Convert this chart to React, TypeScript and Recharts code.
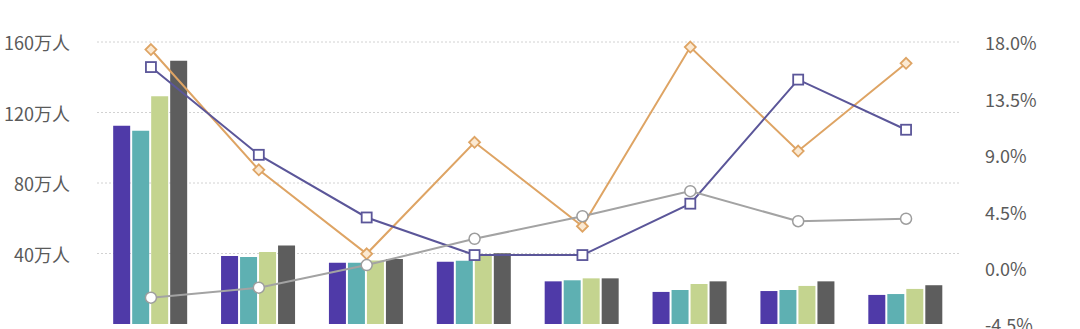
import { Bar, CartesianGrid, ComposedChart, Line, XAxis, YAxis } from "recharts";

const categories = ["类别1", "类别2", "类别3", "类别4", "类别5", "类别6", "类别7", "类别8"];

// bar values, 万人
const seriesA = [112.5, 38.6, 34.8, 35.3, 24.2, 18.2, 18.7, 16.5];
const seriesB = [109.7, 38.0, 34.8, 35.9, 24.8, 19.3, 19.3, 17.0];
const seriesC = [129.2, 40.8, 36.0, 38.8, 25.9, 22.7, 21.6, 19.9];
const seriesD = [149.4, 44.6, 36.9, 40.1, 25.9, 24.2, 24.2, 22.0];

// growth rates, %
const rateOrange = [17.4, 7.8, 1.1, 10.0, 3.3, 17.6, 9.3, 16.3];
const ratePurple = [16.0, 9.0, 4.0, 1.0, 1.0, 5.1, 15.0, 11.0];
const rateGray = [-2.4, -1.6, 0.2, 2.3, 4.1, 6.1, 3.7, 3.9];

const leftTicks = [40, 80, 120, 160];
const rightTicks = [-4.5, 0, 4.5, 9, 13.5, 18];

const data = categories.map((name, i) => ({
  name,
  a: seriesA[i],
  b: seriesB[i],
  c: seriesC[i],
  d: seriesD[i],
  orange: rateOrange[i],
  purple: ratePurple[i],
  gray: rateGray[i],
}));

const FONT = '"Noto Sans CJK SC", "Noto Sans", sans-serif';

interface DotProps {
  cx?: number;
  cy?: number;
  index?: number;
}

function SquareDot({ cx = 0, cy = 0, index }: DotProps) {
  return <rect key={index} x={cx - 5} y={cy - 5} width={10} height={10} fill="#fff" stroke="#5b5699" strokeWidth={1.8} />;
}

function DiamondDot({ cx = 0, cy = 0, index }: DotProps) {
  const r = 5.5;
  return (
    <polygon
      key={index}
      points={`${cx},${cy - r} ${cx + r},${cy} ${cx},${cy + r} ${cx - r},${cy}`}
      fill="#fbe9d2"
      stroke="#dea464"
      strokeWidth={1.8}
    />
  );
}

function CircleDot({ cx = 0, cy = 0, index }: DotProps) {
  return <circle key={index} cx={cx} cy={cy} r={5.5} fill="#fff" stroke="#9d9d9d" strokeWidth={1.5} />;
}

export default function App() {
  return (
    <div style={{ position: "absolute", left: 0, top: 0, width: 1080, height: 360, background: "#fff" }}>
      <ComposedChart
        width={1080}
        height={360}
        data={data}
        margin={{ top: 42, right: 0, left: 0, bottom: 36 }}
        barCategoryGap="15%"
        barGap={2}
      >
        <CartesianGrid yAxisId="left" vertical={false} stroke="#d2d2d2" strokeDasharray="2 2" syncWithTicks />
        <XAxis dataKey="name" tick={false} tickLine={false} height={0} axisLine={{ stroke: "#c4c4c4", strokeDasharray: "0" }} />
        <YAxis
          yAxisId="left"
          domain={[0, 160]}
          ticks={leftTicks}
          width={97}
          axisLine={false}
          tickLine={false}
          tickSize={0}
          tickMargin={27}
          tickFormatter={(v: number) => `${v}万人`}
          tick={{ fontSize: 18, fill: "#5a5a5a", fontFamily: FONT, dy: 2 }}
        />
        <YAxis
          yAxisId="right"
          orientation="right"
          domain={[-4.5, 18]}
          ticks={rightTicks}
          width={120}
          axisLine={false}
          tickLine={false}
          tickSize={0}
          tickMargin={25}
          tickFormatter={(v: number) => `${v.toFixed(1)}%`}
          tick={{ fontSize: 18, fill: "#5a5a5a", fontFamily: FONT, dy: 2 }}
        />
        <Bar yAxisId="left" dataKey="a" fill="#4f3aa8" isAnimationActive={false} />
        <Bar yAxisId="left" dataKey="b" fill="#5eb0b2" isAnimationActive={false} />
        <Bar yAxisId="left" dataKey="c" fill="#c4d48f" isAnimationActive={false} />
        <Bar yAxisId="left" dataKey="d" fill="#5d5d5d" isAnimationActive={false} />
        <Line
          yAxisId="right"
          dataKey="orange"
          stroke="#dea464"
          strokeWidth={2}
          dot={DiamondDot}
          activeDot={false}
          isAnimationActive={false}
        />
        <Line
          yAxisId="right"
          dataKey="purple"
          stroke="#5b5699"
          strokeWidth={2}
          dot={SquareDot}
          activeDot={false}
          isAnimationActive={false}
        />
        <Line
          yAxisId="right"
          dataKey="gray"
          stroke="#a3a3a3"
          strokeWidth={2}
          dot={CircleDot}
          activeDot={false}
          isAnimationActive={false}
        />
      </ComposedChart>
    </div>
  );
}
